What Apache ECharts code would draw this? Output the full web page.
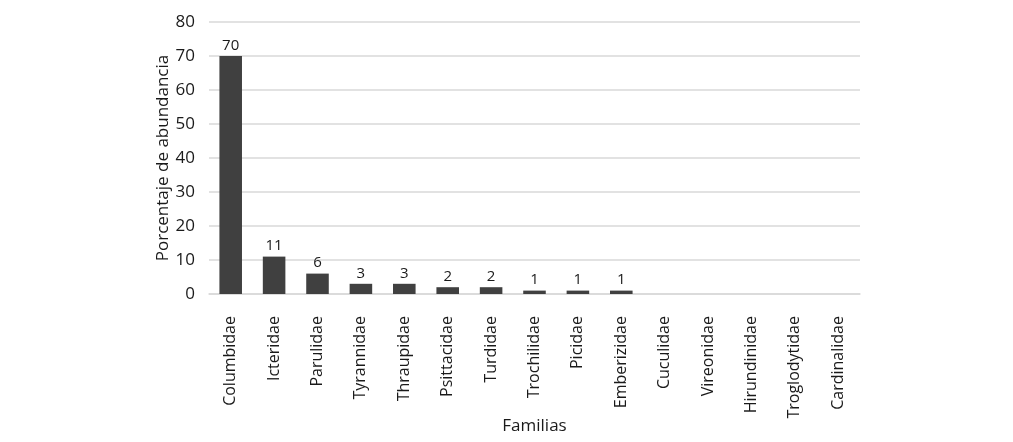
<!DOCTYPE html>
<html><head><meta charset="utf-8">
<script src="https://cdn.jsdelivr.net/npm/echarts@6/dist/echarts.min.js"></script>
<style>html,body{margin:0;padding:0;background:#fff}#c{width:1013px;height:442px}</style>
</head><body><div id="c"></div>
<script>
const categories = ["Columbidae","Icteridae","Parulidae","Tyrannidae","Thraupidae","Psittacidae","Turdidae","Trochilidae","Picidae","Emberizidae","Cuculidae","Vireonidae","Hirundinidae","Troglodytidae","Cardinalidae"];
const values = [70,11,6,3,3,2,2,1,1,1,0,0,0,0,0];
const yTicks = [0,10,20,30,40,50,60,70,80];
const font = "'Open Sans', 'Liberation Sans', sans-serif";
const chart = echarts.init(document.getElementById('c'));
chart.setOption({
  animation:false,
  textStyle:{fontFamily:font},
  grid:{left:209,right:153,top:22,bottom:148,outerBoundsMode:'none',containLabel:false},
  xAxis:{type:'category',data:categories,
    axisLine:{lineStyle:{color:'#d9d9d9',width:1.5}},axisTick:{show:false},
    axisLabel:{rotate:90,color:'#1a1a1a',fontSize:16,margin:22,fontFamily:font},
    name:'Familias',nameLocation:'middle',nameGap:124,nameMoveOverlap:false,nameTextStyle:{color:'#1a1a1a',fontSize:17,fontFamily:font}},
  yAxis:{type:'value',min:0,max:80,interval:10,
    axisLine:{show:false},axisTick:{show:false},
    splitLine:{lineStyle:{color:'#d9d9d9',width:1.5}},
    axisLabel:{color:'#1a1a1a',fontSize:17,margin:14,fontFamily:font,formatter:v=>yTicks.includes(v)?String(v):''},
    name:'Porcentaje de abundancia',nameLocation:'middle',nameGap:37,nameMoveOverlap:false,nameTextStyle:{color:'#1a1a1a',fontSize:17,fontFamily:font}},
  series:[{type:'bar',data:values,barWidth:'52%',itemStyle:{color:'#404040'},
    label:{show:true,position:'top',color:'#1a1a1a',fontSize:15,distance:3,fontFamily:font,formatter:p=>p.value>0?String(p.value):''}}]
});
</script></body></html>
